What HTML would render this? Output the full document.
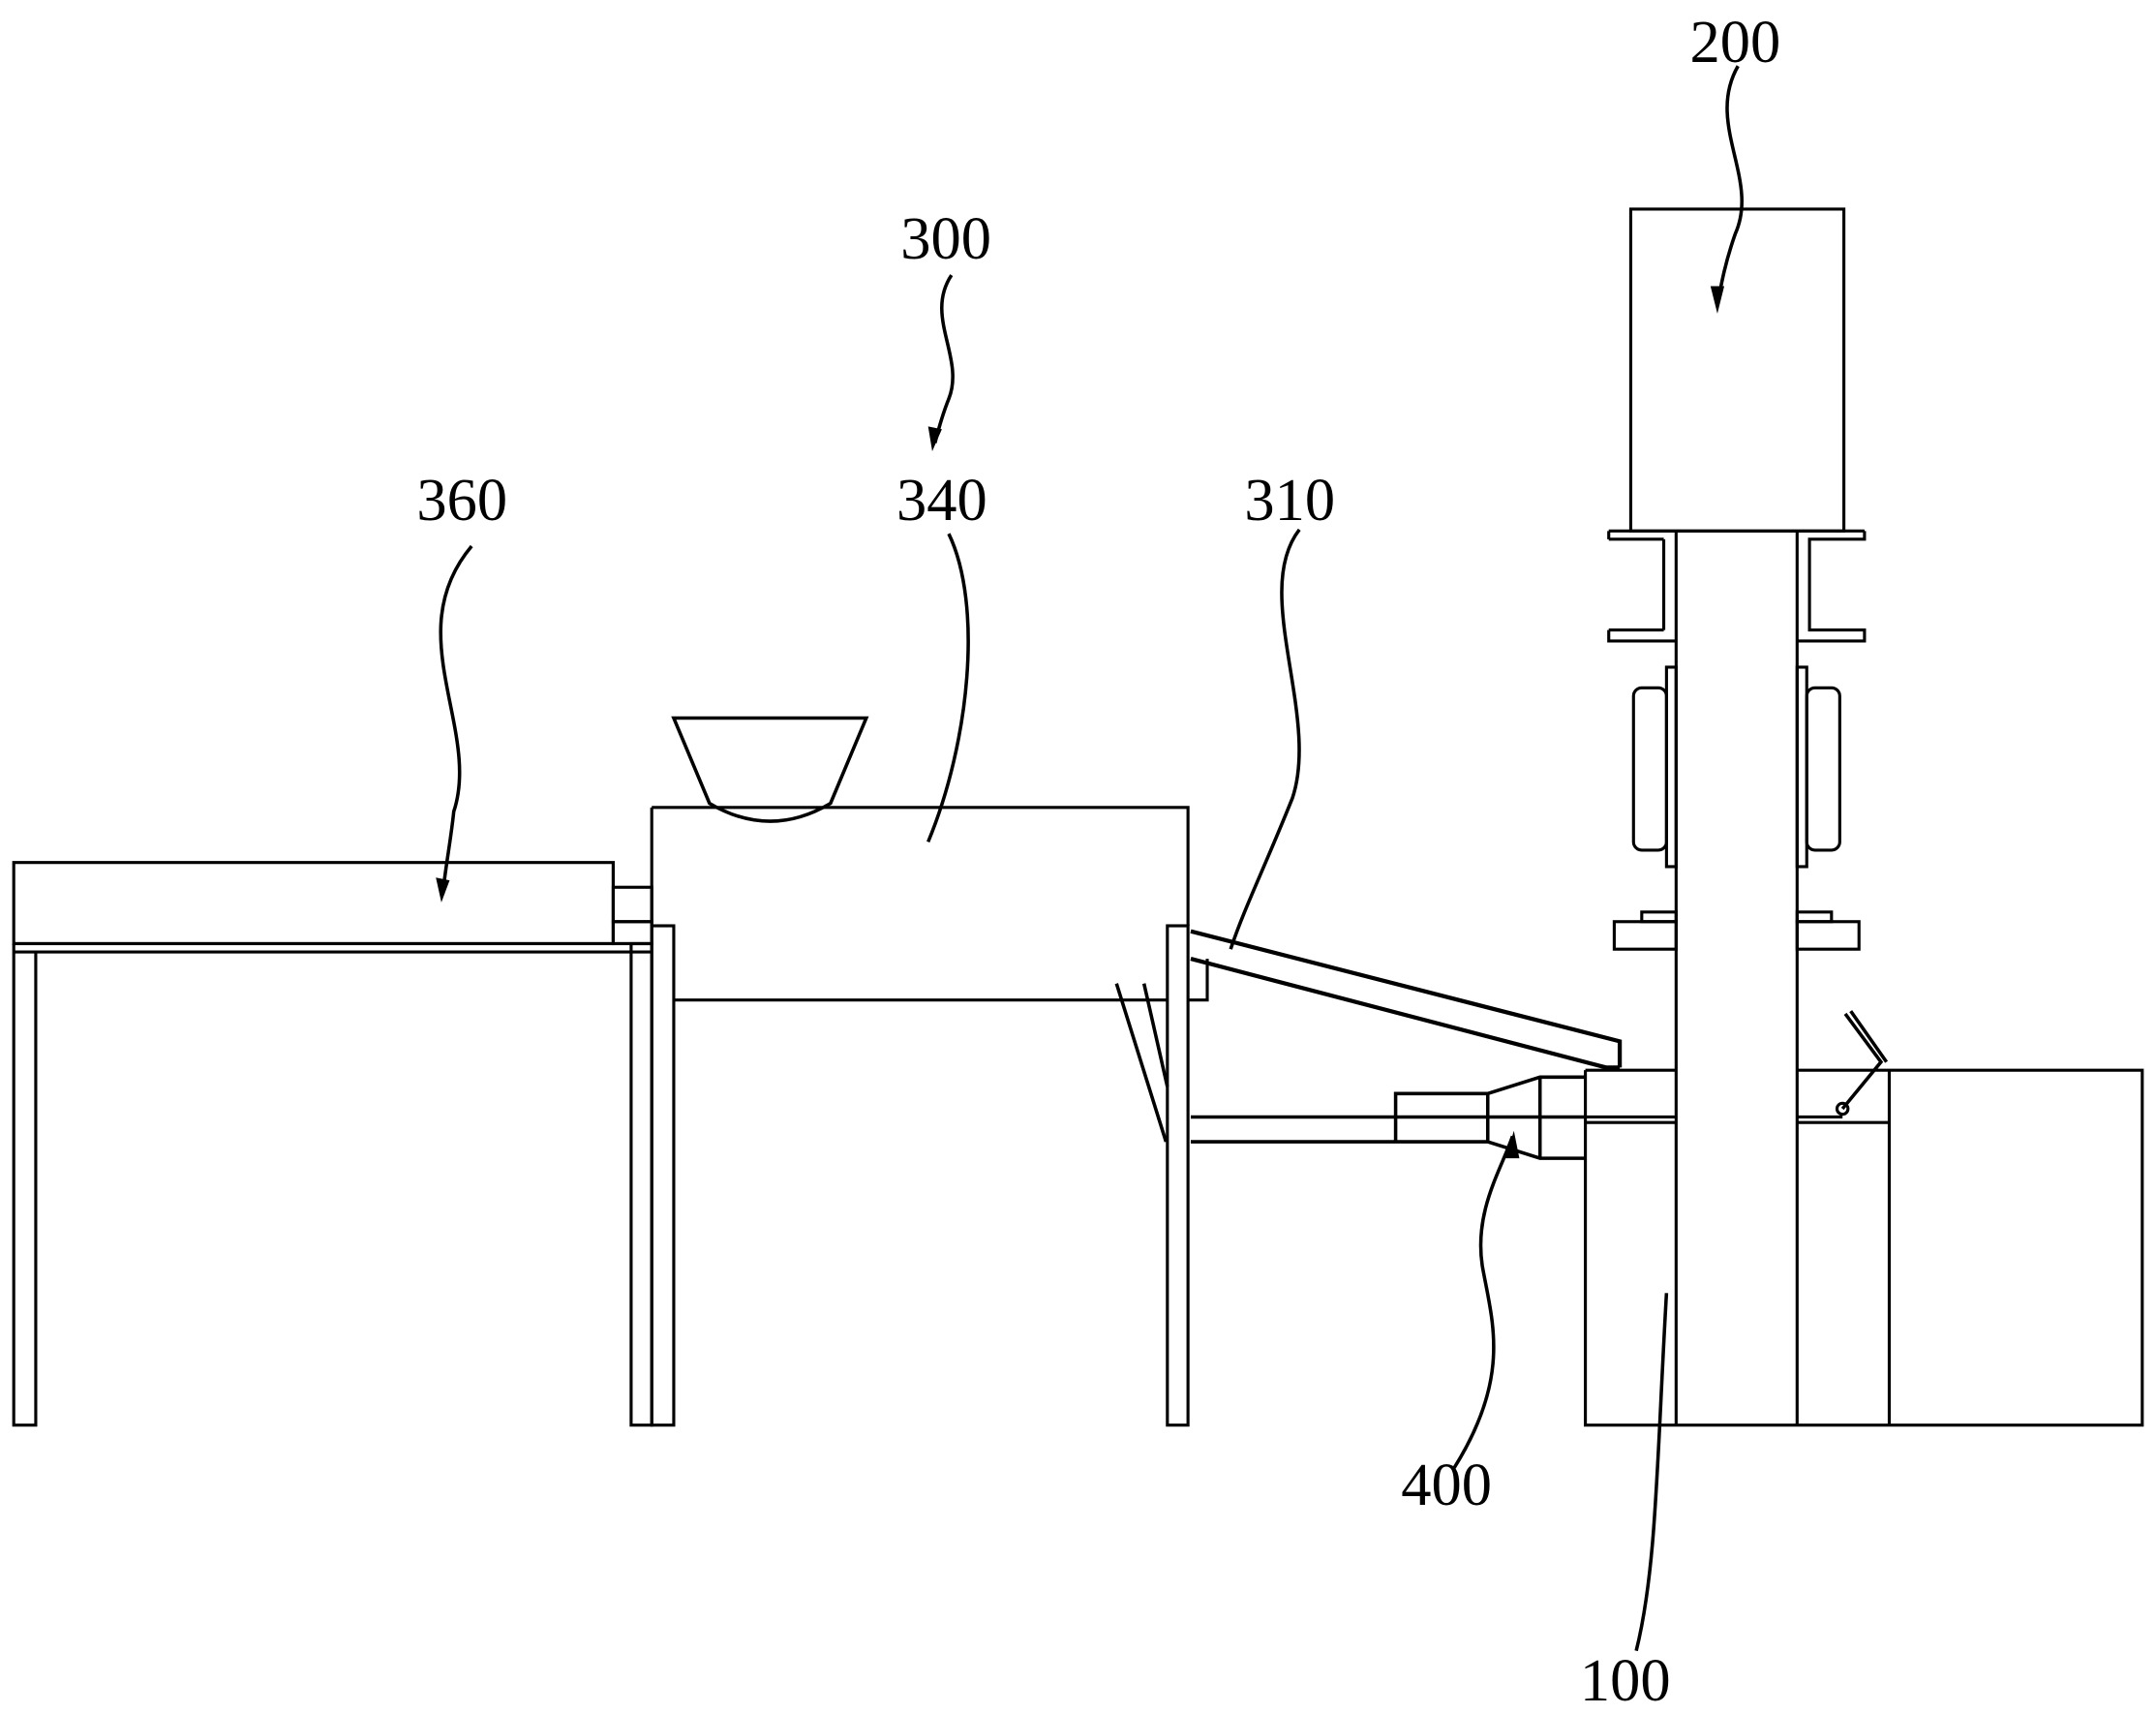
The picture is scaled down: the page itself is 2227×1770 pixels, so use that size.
<!DOCTYPE html>
<html><head><meta charset="utf-8">
<style>
html,body{margin:0;padding:0;background:#fff;}
svg{display:block;}
text{font-family:"Liberation Serif",serif;font-size:44px;fill:#000;}
</style></head>
<body>
<svg width="2227" height="1770" viewBox="0 0 1568 1246" preserveAspectRatio="none" xmlns="http://www.w3.org/2000/svg">
<g fill="none" stroke="#000" stroke-width="2.2">
<rect x="1186" y="152" width="155" height="234"/>
<path d="M1170 386 H1356 M1170 392 H1210 M1210 392 V458 M1219 386 V1036 M1170 386 V392 M1170 458 V466 H1219 M1170 458 H1210"/>
<path d="M1356 386 V392 H1316 V458 H1356 V466 H1307 M1307 386 V1036"/>
<rect x="1188" y="500" width="24" height="118" rx="6"/>
<rect x="1212" y="485" width="7" height="145"/>
<rect x="1314" y="500" width="24" height="118" rx="6"/>
<rect x="1307" y="485" width="7" height="145"/>
<rect x="1174" y="670" width="45" height="20"/>
<rect x="1194" y="663" width="25" height="7"/>
<rect x="1307" y="670" width="45" height="20"/>
<rect x="1307" y="663" width="25" height="7"/>
<path d="M1153 778 H1219 M1307 778 H1558 V1036 H1153 V778 M1374 778 V1036 M1153 812 H1219 M1153 816 H1219 M1307 812 H1340 M1307 816 H1374"/>
<path d="M1342 737 L1368 772 L1340 806 M1346 735 L1372 772" stroke-width="2.5"/>
<circle cx="1340" cy="806" r="4"/>
<path d="M474 587 H864 V673 M474 587 V673 M490 727 H849 M864 727 H878 V697"/>
<path d="M490 522 H630 L604 584 Q560 610 516 584 Z" stroke-width="2.5"/>
<rect x="474" y="673" width="16" height="363"/>
<rect x="459" y="686" width="15" height="350"/>
<rect x="849" y="673" width="15" height="363"/>
<path d="M812 715 L848 830 M832 715 L849 790" stroke-width="2.5"/>
<rect x="10" y="627" width="436" height="59"/>
<path d="M10 686 V692 H474 M10 686 H474 M26 692 V1036 H10 V686 M446 627 V686"/>
<rect x="446" y="645" width="28" height="25"/>
<rect x="446" y="670" width="28" height="16"/>
<path d="M866 677 L1178 757 V776 M866 697 L1168 776 H1178" stroke-width="3"/>
<path d="M866 812 H1015 M866 830 H1015 M1015 795 H1082 V830 H1015 Z M1082 795 L1120 783 H1153 M1082 830 L1120 842 H1153 M1120 783 V842 M1015 812 H1153" stroke-width="2.5"/>
<path d="M1264 48 C1240 90 1280 130 1262 170 C1255 190 1252 205 1249 222" stroke-width="2.5"/>
<path d="M692 200 C672 230 702 260 690 290 C686 300 683 310 680 322" stroke-width="2.5"/>
<path d="M690 388 C715 440 705 540 675 612" stroke-width="2.5"/>
<path d="M945 385 C910 430 960 520 940 580 C920 630 905 660 895 690" stroke-width="2.5"/>
<path d="M343 397 C290 460 350 530 330 590 C328 610 324 630 322 650" stroke-width="2.5"/>
<path d="M1057 1068 C1100 1000 1085 960 1078 920 C1072 880 1092 850 1100 826" stroke-width="2.5"/>
<path d="M1190 1200 C1205 1140 1205 1060 1212 940" stroke-width="2.5"/>
</g>
<g fill="#000">
<polygon points="1244,208 1254,208 1249,228"/>
<polygon points="675,310 685,312 678,328"/>
<polygon points="317,638 327,640 321,656"/>
<polygon points="1095,842 1105,842 1101,822"/>
</g>
<text x="1229" y="45">200</text>
<text x="655" y="188">300</text>
<text x="652" y="378">340</text>
<text x="905" y="378">310</text>
<text x="303" y="378">360</text>
<text x="1019" y="1094">400</text>
<text x="1149" y="1236">100</text>
</svg>
</body></html>
